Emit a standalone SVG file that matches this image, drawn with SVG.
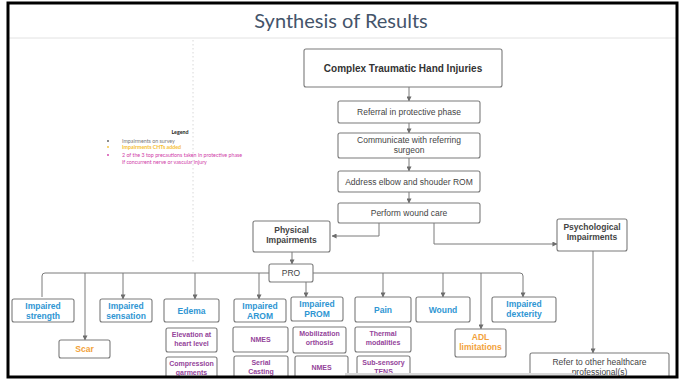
<svg xmlns="http://www.w3.org/2000/svg" width="683" height="379" viewBox="0 0 683 379">
  <defs>
    <marker id="arr" viewBox="0 0 6 6" refX="5.5" refY="3" markerWidth="5" markerHeight="5" orient="auto" markerUnits="userSpaceOnUse">
      <path d="M0,0 L6,3 L0,6 Z" fill="#6d6d6d"/>
    </marker>
    <style>
      .box { fill: #ffffff; stroke: #7a7a7a; stroke-width: 1.1; }
      .flow { font-family: "Liberation Sans", Arial, sans-serif; font-size: 8.5px; fill: #444444; text-anchor: middle; }
      .head { font-family: "Liberation Sans", Arial, sans-serif; font-size: 10px; font-weight: bold; fill: #333333; text-anchor: middle; }
      .cat { font-family: "Liberation Sans", Arial, sans-serif; font-size: 8.5px; font-weight: bold; fill: #444444; text-anchor: middle; }
      .blue { font-family: "Liberation Sans", Arial, sans-serif; font-size: 8.5px; font-weight: bold; fill: #2f96d3; text-anchor: middle; }
      .orange { font-family: "Liberation Sans", Arial, sans-serif; font-size: 8.5px; font-weight: bold; fill: #f2a23a; text-anchor: middle; }
      .purple { font-family: "Liberation Sans", Arial, sans-serif; font-size: 7px; font-weight: bold; fill: #94449a; text-anchor: middle; }
      .conn { fill: none; stroke: #7a7a7a; stroke-width: 1; }
      .leg { font-family: Lato, "Open Sans", sans-serif; font-size: 5.3px; }
    </style>
  </defs>

  <rect x="0" y="0" width="683" height="379" fill="#ffffff"/>

  <!-- title bar -->
  <text x="341" y="28" font-family="Lato, 'Open Sans', sans-serif" font-size="20" fill="#44546a" text-anchor="middle">Synthesis of Results</text>
  <line x1="9" y1="38" x2="676" y2="38" stroke="#e2e2e2" stroke-width="1"/>
  <line x1="193" y1="40" x2="193" y2="264" stroke="#d8d8d8" stroke-width="1" stroke-dasharray="1.5,2.5"/>

  <!-- legend -->
  <g id="legend">
    <text x="180" y="134" class="leg" font-weight="bold" fill="#222222" text-anchor="middle">Legend</text>
    <circle cx="108" cy="141" r="0.9" fill="#555555"/>
    <text x="122" y="143" class="leg" fill="#777777">Impairments on survey</text>
    <circle cx="108" cy="147" r="0.9" fill="#f5c033"/>
    <text x="122" y="149" class="leg" fill="#f5c033" font-weight="bold">Impairments CHTs added</text>
    <circle cx="108" cy="155" r="0.9" fill="#d03ca8"/>
    <text x="122" y="157" class="leg" fill="#d03ca8">2 of the 3 top precautions taken in protective phase</text>
    <text x="122" y="164" class="leg" fill="#d03ca8">if concurrent nerve or vascular injury</text>
  </g>

  <!-- connectors -->
  <g id="connectors" class="conn">
    <line x1="409" y1="87" x2="409" y2="101" marker-end="url(#arr)"/>
    <line x1="409" y1="123" x2="409" y2="133" marker-end="url(#arr)"/>
    <line x1="409" y1="158" x2="409" y2="171" marker-end="url(#arr)"/>
    <line x1="409" y1="192" x2="409" y2="203" marker-end="url(#arr)"/>
    <path d="M379,223 V236 H332" marker-end="url(#arr)"/>
    <path d="M434,223 V244 H557" marker-end="url(#arr)"/>
    <line x1="292" y1="252" x2="292" y2="264" marker-end="url(#arr)"/>
    <path d="M42,297 V276 Q42,273 45,273 H520 Q523,273 523,276 V297" marker-end="url(#arr)"/>
    <line x1="85" y1="273" x2="85" y2="340" marker-end="url(#arr)"/>
    <line x1="123" y1="273" x2="123" y2="299" marker-end="url(#arr)"/>
    <line x1="195" y1="273" x2="195" y2="299" marker-end="url(#arr)"/>
    <line x1="259" y1="273" x2="259" y2="299" marker-end="url(#arr)"/>
    <line x1="306" y1="273" x2="306" y2="297" marker-end="url(#arr)"/>
    <line x1="383" y1="273" x2="383" y2="297" marker-end="url(#arr)"/>
    <line x1="443" y1="273" x2="443" y2="297" marker-end="url(#arr)"/>
    <line x1="481" y1="273" x2="481" y2="329" marker-end="url(#arr)"/>
    <line x1="593" y1="251" x2="593" y2="353" marker-end="url(#arr)"/>
  </g>

  <!-- main flow -->
  <g id="complex">
    <rect class="box" x="304" y="49" width="198" height="38" rx="2"/>
    <text class="head" x="403" y="71.5">Complex Traumatic Hand Injuries</text>
  </g>
  <g id="referral">
    <rect class="box" x="338" y="101" width="142" height="22" rx="2"/>
    <text class="flow" x="409" y="115">Referral in protective phase</text>
  </g>
  <g id="communicate">
    <rect class="box" x="338" y="133" width="142" height="25" rx="2"/>
    <text class="flow" x="409" y="143">Communicate with referring</text>
    <text class="flow" x="409" y="153">surgeon</text>
  </g>
  <g id="address">
    <rect class="box" x="338" y="171" width="142" height="21" rx="2"/>
    <text class="flow" x="409" y="184.5">Address elbow and shouder ROM</text>
  </g>
  <g id="wound-care">
    <rect class="box" x="338" y="203" width="142" height="20" rx="2"/>
    <text class="flow" x="409" y="216">Perform wound care</text>
  </g>
  <g id="physical">
    <rect class="box" x="253" y="221" width="77" height="31" rx="2"/>
    <text class="cat" x="291.5" y="233">Physical</text>
    <text class="cat" x="291.5" y="243">Impairments</text>
  </g>
  <g id="psychological">
    <rect class="box" x="557" y="219" width="70" height="32" rx="2"/>
    <text class="cat" x="592" y="230">Psychological</text>
    <text class="cat" x="592" y="240">Impairments</text>
  </g>
  <g id="pro">
    <rect class="box" x="269" y="264" width="44" height="18" rx="2"/>
    <text class="flow" x="291" y="276">PRO</text>
  </g>

  <!-- impairment categories -->
  <g id="strength">
    <rect class="box" x="12" y="299" width="62" height="23" rx="2"/>
    <text class="blue" x="43" y="309">Impaired</text>
    <text class="blue" x="43" y="319">strength</text>
  </g>
  <g id="scar">
    <rect class="box" x="59" y="340" width="51" height="18" rx="2"/>
    <text class="orange" x="84.5" y="352">Scar</text>
  </g>
  <g id="sensation">
    <rect class="box" x="100" y="299" width="52" height="23" rx="2"/>
    <text class="blue" x="126" y="309">Impaired</text>
    <text class="blue" x="126" y="319">sensation</text>
  </g>
  <g id="edema">
    <rect class="box" x="164" y="299" width="55" height="23" rx="2"/>
    <text class="blue" x="191.5" y="313.5">Edema</text>
  </g>
  <g id="elevation">
    <rect class="box" x="166" y="328" width="51" height="24" rx="2"/>
    <text class="purple" x="191.5" y="337">Elevation at</text>
    <text class="purple" x="191.5" y="346">heart level</text>
  </g>
  <g id="compression">
    <rect class="box" x="166" y="357" width="51" height="30" rx="2"/>
    <text class="purple" x="191.5" y="366">Compression</text>
    <text class="purple" x="191.5" y="375">garments</text>
  </g>
  <g id="arom">
    <rect class="box" x="234" y="299" width="52" height="23" rx="2"/>
    <text class="blue" x="260" y="309">Impaired</text>
    <text class="blue" x="260" y="319">AROM</text>
  </g>
  <g id="arom-nmes">
    <rect class="box" x="233" y="327" width="55" height="25" rx="2"/>
    <text class="purple" x="260.5" y="342">NMES</text>
  </g>
  <g id="serial-casting">
    <rect class="box" x="234" y="356" width="54" height="30" rx="2"/>
    <text class="purple" x="261" y="365">Serial</text>
    <text class="purple" x="261" y="374">Casting</text>
  </g>
  <g id="prom">
    <rect class="box" x="291" y="297" width="52" height="24" rx="2"/>
    <text class="blue" x="317" y="307">Impaired</text>
    <text class="blue" x="317" y="317">PROM</text>
  </g>
  <g id="mobilization">
    <rect class="box" x="293" y="327" width="53" height="26" rx="2"/>
    <text class="purple" x="319.5" y="336">Mobilization</text>
    <text class="purple" x="319.5" y="345">orthosis</text>
  </g>
  <g id="prom-nmes">
    <rect class="box" x="295" y="356" width="53" height="30" rx="2"/>
    <text class="purple" x="321.5" y="370">NMES</text>
  </g>
  <g id="pain">
    <rect class="box" x="355" y="297" width="56" height="25" rx="2"/>
    <text class="blue" x="383" y="312.5">Pain</text>
  </g>
  <g id="thermal">
    <rect class="box" x="355" y="327" width="56" height="25" rx="2"/>
    <text class="purple" x="383" y="336">Thermal</text>
    <text class="purple" x="383" y="345">modalities</text>
  </g>
  <g id="tens">
    <rect class="box" x="357" y="356" width="53" height="30" rx="2"/>
    <text class="purple" x="383.5" y="365">Sub-sensory</text>
    <text class="purple" x="383.5" y="374">TENS</text>
  </g>
  <g id="wound">
    <rect class="box" x="416" y="297" width="54" height="25" rx="2"/>
    <text class="blue" x="443" y="312.5">Wound</text>
  </g>
  <g id="adl">
    <rect class="box" x="455" y="329" width="51" height="28" rx="2"/>
    <text class="orange" x="480.5" y="340">ADL</text>
    <text class="orange" x="480.5" y="350">limitations</text>
  </g>
  <g id="dexterity">
    <rect class="box" x="492" y="297" width="64" height="25" rx="2"/>
    <text class="blue" x="524" y="307">Impaired</text>
    <text class="blue" x="524" y="317">dexterity</text>
  </g>
  <g id="refer">
    <rect class="box" x="530" y="353" width="139" height="34" rx="2"/>
    <text class="flow" x="599.5" y="365">Refer to other healthcare</text>
    <text class="flow" x="599.5" y="375">professional(s)</text>
  </g>

  <!-- bottom strip and frame -->
  <rect x="345" y="373" width="230" height="3" fill="#d9d9d9"/>
  <rect x="0" y="377" width="683" height="2" fill="#ffffff"/>
  <rect x="8" y="3" width="669" height="374" fill="none" stroke="#000000" stroke-width="3"/>
</svg>
